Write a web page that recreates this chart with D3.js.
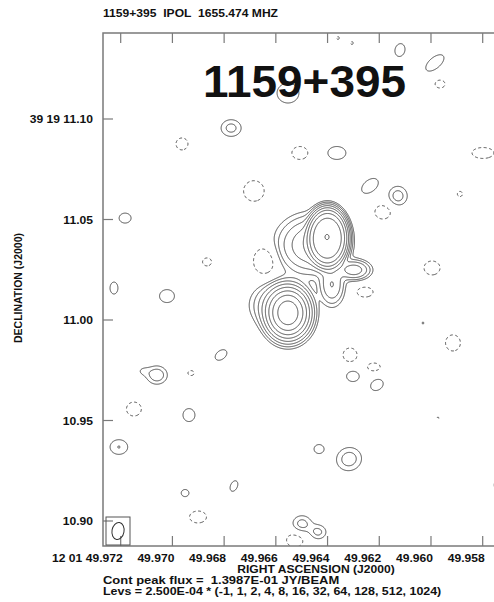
<!DOCTYPE html>
<html>
<head>
<meta charset="utf-8">
<script src="https://cdn.jsdelivr.net/npm/d3@7"></script>
<style>
  body { margin: 0; background: #fff; }
  svg text { font-family: "Liberation Sans", Arial, sans-serif; font-weight: bold; fill: #111; white-space: pre; }
</style>
</head>
<body>
<svg id="chart" width="494" height="602"></svg>
<script>
// ---- data ----
const sourceName = "1159+395"
const stokes = "IPOL"
const freqMHz = 1655.474
const peakFlux = 1.3987e-1          // Jy/beam
const baseLevel = 2.5e-4            // Jy/beam
const levelMultipliers = [-1, 1, 2, 4, 8, 16, 32, 64, 128, 512, 1024]

const raTicks = [49.972, 49.970, 49.968, 49.966, 49.964, 49.962, 49.960, 49.958]
const raTickLabels = ["12 01 49.972", "49.970", "49.968", "49.966", "49.964", "49.962", "49.960", "49.958"]
const decTicks = [11.10, 11.05, 11.00, 10.95, 10.90]
const decTickLabels = ["39 19 11.10", "11.05", "11.00", "10.95", "10.90"]

// restoring beam: major, minor (mas), PA (deg)
const beam = [8.5, 5.4, 10]

// components: [RA sec, Dec arcsec, peak mJy/beam, major mas, minor mas, PA deg, profile exponent (2 = gaussian)]
const sourceComponents = [
    [49.96402, 11.0413, 78.8, 5.0, 3.6, 0, 2],
    [49.96400, 11.0408, 60.0, 20.1, 12.5, 0, 3.4],
    [49.96460, 11.0373, 4.0, 17.9, 16.9, 90, 2],
    [49.96298, 11.0249, 3.0, 9.0, 6.0, 90, 2],
    [49.96383, 11.0174, 2.0, 12.9, 7.2, 0, 2],
    [49.96553, 11.0035, 55.75, 12.9, 9.9, 0, 2],
    [49.96603, 11.0075, 1.5, 14.3, 13.9, 90, 2],
]

const positiveSpots = [
    [49.96553, 11.1129, 0.40, 12.0, 11.9, 0],
    [49.96120, 11.1343, 0.40, 7.8, 5.4, 10],
    [49.95985, 11.1279, 0.40, 12.5, 6.3, 45],
    [49.96773, 11.0955, 0.625, 7.8, 7.2, 90],
    [49.96364, 11.0831, 0.40, 9.8, 7.8, 90],
    [49.96236, 11.0667, 0.40, 10.8, 6.8, 45],
    [49.96128, 11.0617, 0.675, 8.0, 7.0, 0],
    [49.97183, 11.0507, 0.40, 6.5, 6.0, 90],
    [49.97226, 11.0159, 0.40, 7.2, 4.3, 0],
    [49.97021, 11.0119, 0.40, 8.1, 7.8, 90],
    [49.96812, 10.9826, 0.40, 7.5, 5.0, 45],
    [49.97060, 10.9726, 0.80, 7.2, 7.0, 90],
    [49.97114, 10.9746, 0.25, 5.4, 4.5, 90],
    [49.96302, 10.9721, 0.40, 7.0, 6.6, 90],
    [49.96209, 10.9677, 0.40, 7.5, 6.0, 45],
    [49.96936, 10.9527, 0.40, 7.8, 6.5, 0],
    [49.97207, 10.9368, 0.508, 7.8, 7.2, 90],
    [49.96433, 10.9358, 0.40, 5.4, 5.4, 0],
    [49.96317, 10.9308, 0.71, 9.5, 9.0, 30],
    [49.96762, 10.9174, 0.40, 6.6, 3.8, 20],
    [49.96951, 10.9139, 0.40, 4.3, 4.2, 0],
    [49.96499, 10.8985, 0.65, 7.2, 7.0, 90],
    [49.96437, 10.8945, 0.60, 6.3, 6.0, 90],
    [49.95733, 10.9179, 0.40, 8.0, 6.3, 0],
    [49.96031, 10.9985, 0.262, 3.6, 3.6, 0],
]

const negativeSpots = [
    [49.96360, 11.1403, -0.275, 3.6, 3.6, 0],
    [49.96306, 11.1378, -0.275, 3.6, 3.6, 0],
    [49.95965, 11.1174, -0.40, 5.4, 4.8, 90],
    [49.96963, 11.0876, -0.40, 7.2, 6.5, 0],
    [49.96507, 11.0831, -0.40, 8.7, 7.8, 90],
    [49.95799, 11.0831, -0.40, 11.9, 6.6, 90],
    [49.96685, 11.0642, -0.40, 12.4, 11.2, 0],
    [49.96186, 11.0537, -0.40, 8.7, 8.4, 90],
    [49.95888, 11.0627, -0.30, 5.0, 4.5, 0],
    [49.96866, 11.0289, -0.40, 4.9, 4.8, 90],
    [49.96642, 11.0294, -0.55, 13.2, 9.8, 0],
    [49.95996, 11.0259, -0.40, 8.7, 8.4, 90],
    [49.96255, 11.0139, -0.40, 8.7, 6.0, 90],
    [49.96313, 10.9826, -0.40, 8.4, 7.6, 0],
    [49.96221, 10.9766, -0.40, 7.0, 4.8, 90],
    [49.95915, 10.9886, -0.40, 9.7, 8.1, 0],
    [49.96928, 10.9736, -0.325, 4.5, 4.0, 90],
    [49.97149, 10.9557, -0.40, 8.4, 8.1, 0],
    [49.96901, 10.9020, -0.40, 9.2, 7.2, 90],
    [49.96526, 10.8905, -0.40, 9.2, 8.4, 90],
    [49.95973, 10.9512, -0.262, 3.6, 3.6, 0],
]

// ---- layout ----
const frame = { left: 103, top: 33, right: 510, bottom: 546 }
const xs = d3.scaleLinear().domain([49.972, 49.958]).range([120.7, 482.7])
const ys = d3.scaleLinear().domain([10.90, 11.10]).range([521, 119])
const cosDec = Math.cos((39 + 19 / 60 + 11 / 3600) * Math.PI / 180)
const pxPerMasX = Math.abs(xs(49.972 - 1 / (15000 * cosDec)) - xs(49.972))
const pxPerMasY = Math.abs(ys(11.001) - ys(11.0))

const svg = d3.select("#chart")

const expo = (v, d) => {
    const [m, e] = v.toExponential(d).split("e")
    const n = Math.abs(+e)
    return m + "E" + (+e < 0 ? "-" : "+") + (n < 10 ? "0" + n : n)
}
// the reference plot is a little wider than tall, so stretch text sideways
const stretch = k => sel => sel.each(function () {
    const w = this.getComputedTextLength()
    d3.select(this).attr("textLength", w * k).attr("lengthAdjust", "spacingAndGlyphs")
})

// ---- brightness grid ----
const gx0 = 95, gy0 = 25, nx = 420, ny = 530
const grid = new Float64Array(nx * ny)
const raCol = d3.range(nx).map(i => xs.invert(gx0 + i + 0.5))
const decRow = d3.range(ny).map(j => ys.invert(gy0 + j + 0.5))

;[...sourceComponents, ...positiveSpots, ...negativeSpots].forEach(([ra, dec, peak, maj, min, pa, n = 2]) => {
    const cx = xs(ra) - gx0, cy = ys(dec) - gy0
    const r = 2.4 * maj * Math.max(pxPerMasX, pxPerMasY)
    const s = Math.sin(pa * Math.PI / 180), c = Math.cos(pa * Math.PI / 180)
    const i0 = Math.max(0, Math.floor(cx - r)), i1 = Math.min(nx - 1, Math.ceil(cx + r))
    const j0 = Math.max(0, Math.floor(cy - r)), j1 = Math.min(ny - 1, Math.ceil(cy + r))
    for (let j = j0; j <= j1; j++) {
        const dy = (decRow[j] - dec) * 1000
        for (let i = i0; i <= i1; i++) {
            const dx = (ra - raCol[i]) * 15000 * cosDec
            const u = dx * s + dy * c, v = dx * c - dy * s
            const q = 4 * (u * u / (maj * maj) + v * v / (min * min))
            grid[j * nx + i] += peak * Math.exp(-Math.LN2 * Math.pow(q, n / 2))
        }
    }
})

const baseMJy = baseLevel * 1000
const posLevels = levelMultipliers.filter(m => m > 0).map(m => m * baseMJy)
const negLevels = levelMultipliers.filter(m => m < 0).map(m => -m * baseMJy)
const contours = d3.contours().size([nx, ny]).smooth(true)
const path = d3.geoPath()

svg.append("clipPath").attr("id", "plot-clip")
    .append("rect")
    .attr("x", frame.left).attr("y", frame.top)
    .attr("width", frame.right - frame.left).attr("height", frame.bottom - frame.top)

const plot = svg.append("g").attr("clip-path", "url(#plot-clip)")
    .append("g").attr("transform", `translate(${gx0},${gy0})`)
    .attr("fill", "none").attr("stroke", "#4d4d4d").attr("stroke-width", 1)

plot.selectAll("path.pos")
    .data(contours.thresholds(posLevels)(grid))
    .join("path").attr("class", "pos")
    .attr("d", path)

plot.selectAll("path.neg")
    .data(contours.thresholds(negLevels)(grid.map(v => -v)))
    .join("path").attr("class", "neg")
    .attr("stroke-dasharray", "3,2.5")
    .attr("d", path)

// ---- frame and ticks ----
svg.append("rect")
    .attr("x", frame.left).attr("y", frame.top)
    .attr("width", frame.right - frame.left).attr("height", frame.bottom - frame.top)
    .attr("fill", "none").attr("stroke", "#7a7a7a").attr("stroke-width", 1.5)

const tickLen = 10
svg.append("g").attr("stroke", "#7a7a7a").attr("stroke-width", 1.2)
    .selectAll("path")
    .data(raTicks)
    .join("path")
    .attr("d", d => `M${xs(d)},${frame.top}v${tickLen}M${xs(d)},${frame.bottom}v${-tickLen}`)

svg.append("g").attr("stroke", "#7a7a7a").attr("stroke-width", 1.2)
    .selectAll("path")
    .data(decTicks)
    .join("path")
    .attr("d", d => `M${frame.left},${ys(d)}h${tickLen}`)

svg.append("g").attr("font-size", 11).attr("text-anchor", "end")
    .selectAll("text")
    .data(raTicks)
    .join("text")
    .attr("x", d => xs(d) + 2)
    .attr("y", 562)
    .text((d, i) => raTickLabels[i])
    .call(stretch(1.1))

svg.append("g").attr("font-size", 11).attr("text-anchor", "end")
    .selectAll("text")
    .data(decTicks)
    .join("text")
    .attr("x", 93)
    .attr("y", d => ys(d) + 4)
    .text((d, i) => decTickLabels[i])
    .call(stretch(1.1))

// ---- beam ----
const beamBox = { x: 106, y: 517, w: 24, h: 28 }
svg.append("rect")
    .attr("x", beamBox.x).attr("y", beamBox.y).attr("width", beamBox.w).attr("height", beamBox.h)
    .attr("fill", "none").attr("stroke", "#555").attr("stroke-width", 1)
svg.append("ellipse")
    .attr("transform", `translate(${beamBox.x + beamBox.w / 2},${beamBox.y + beamBox.h / 2}) rotate(${beam[2]})`)
    .attr("rx", beam[1] * pxPerMasX / 2).attr("ry", beam[0] * pxPerMasY / 2)
    .attr("fill", "none").attr("stroke", "#333").attr("stroke-width", 1)

// ---- labels ----
svg.append("text").attr("x", 103).attr("y", 17).attr("font-size", 11)
    .text(`${sourceName}  ${stokes}  ${freqMHz.toFixed(3)} MHZ`).call(stretch(1.1))

svg.append("text").attr("x", 203).attr("y", 97).attr("font-size", 45).attr("fill", "#000")
    .text(sourceName).call(stretch(1.02))

svg.append("text").attr("transform", "translate(22,288) rotate(-90)")
    .attr("text-anchor", "middle").attr("font-size", 10.5)
    .text("DECLINATION (J2000)")

svg.append("text").attr("x", 316).attr("y", 573).attr("text-anchor", "middle").attr("font-size", 11)
    .text("RIGHT ASCENSION (J2000)").call(stretch(1.1))

svg.append("text").attr("x", 103).attr("y", 584).attr("font-size", 11)
    .text(`Cont peak flux =  ${expo(peakFlux, 4)} JY/BEAM`).call(stretch(1.18))

svg.append("text").attr("x", 103).attr("y", 595).attr("font-size", 11)
    .text(`Levs = ${expo(baseLevel, 3)} * (${levelMultipliers.join(", ")})`).call(stretch(1.13))
</script>
</body>
</html>
